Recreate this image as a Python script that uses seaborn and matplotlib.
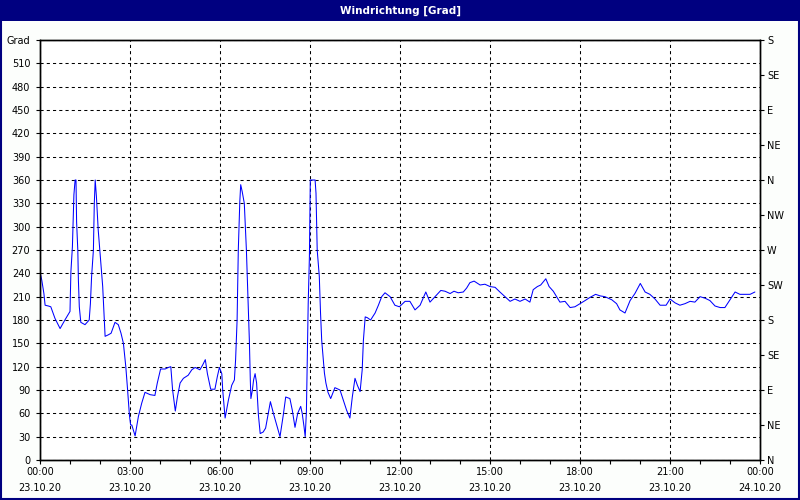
import matplotlib
matplotlib.use("Agg")
import matplotlib.pyplot as plt
import seaborn as sns
import pandas as pd
from matplotlib import font_manager
from matplotlib.patches import Rectangle
from matplotlib.ticker import MultipleLocator

# ---- data (time in hours since 23.10.20 00:00, wind direction in degrees) ----
hours = [0.0, 0.06, 0.13, 0.17, 0.28, 0.36, 0.5, 0.67, 0.83, 1.0, 1.03, 1.08, 1.13, 1.17, 1.2,
         1.22, 1.26, 1.28, 1.31, 1.36, 1.5, 1.64, 1.68, 1.72, 1.78, 1.81, 1.84, 1.88, 1.94, 2.02,
         2.09, 2.13, 2.17, 2.28, 2.37, 2.5, 2.61, 2.7, 2.78, 2.86, 2.92, 2.98, 3.02, 3.06, 3.17,
         3.28, 3.39, 3.5, 3.67, 3.83, 3.91, 4.02, 4.17, 4.28, 4.36, 4.42, 4.51, 4.58, 4.67, 4.78,
         4.94, 5.06, 5.17, 5.33, 5.42, 5.51, 5.58, 5.69, 5.83, 5.91, 5.98, 6.06, 6.09, 6.17, 6.28,
         6.39, 6.48, 6.52, 6.57, 6.61, 6.66, 6.69, 6.74, 6.81, 6.88, 6.94, 6.98, 7.01, 7.03, 7.08,
         7.12, 7.17, 7.22, 7.28, 7.34, 7.44, 7.52, 7.59, 7.68, 7.78, 7.89, 8.0, 8.11, 8.19, 8.33,
         8.41, 8.5, 8.59, 8.69, 8.74, 8.8, 8.84, 8.88, 8.91, 8.94, 8.98, 9.01, 9.17, 9.2, 9.24,
         9.31, 9.35, 9.39, 9.44, 9.48, 9.53, 9.6, 9.69, 9.83, 10.0, 10.11, 10.22, 10.33, 10.41, 10.5,
         10.58, 10.67, 10.74, 10.78, 10.84, 10.91, 11.02, 11.17, 11.28, 11.39, 11.5, 11.67, 11.83, 11.98, 12.17,
         12.33, 12.5, 12.67, 12.76, 12.86, 13.0, 13.17, 13.36, 13.5, 13.67, 13.8, 13.94, 14.11, 14.22, 14.33,
         14.47, 14.67, 14.83, 15.0, 15.17, 15.33, 15.56, 15.67, 15.83, 16.0, 16.17, 16.33, 16.44, 16.58, 16.69,
         16.86, 16.97, 17.11, 17.22, 17.33, 17.5, 17.67, 17.83, 18.0, 18.17, 18.33, 18.52, 18.67, 18.83, 19.06,
         19.22, 19.33, 19.5, 19.67, 19.83, 20.01, 20.17, 20.33, 20.5, 20.67, 20.87, 21.0, 21.17, 21.33, 21.5,
         21.67, 21.83, 22.0, 22.17, 22.33, 22.5, 22.67, 22.83, 23.0, 23.17, 23.33, 23.5, 23.67, 23.83]
degrees = [242, 231, 214, 199, 198, 197, 182, 169, 180, 191, 242, 274, 341, 360, 360,
           306, 270, 231, 197, 177, 174, 180, 201, 236, 270, 330, 360, 339, 296, 257,
           223, 191, 159, 161, 163, 177, 174, 163, 150, 120, 90, 58, 45, 45, 31,
           56, 73, 87, 84, 83, 99, 117, 117, 119, 120, 90, 63, 81, 99, 105,
           109, 116, 119, 116, 122, 129, 111, 91, 91, 107, 119, 111, 90, 54, 77,
           96, 103, 129, 180, 270, 332, 354, 345, 330, 270, 201, 152, 103, 79, 90,
           103, 111, 99, 58, 34, 36, 41, 56, 75, 60, 45, 30, 58, 81, 79,
           64, 42, 60, 69, 60, 43, 30, 62, 129, 201, 261, 360, 360, 343, 270,
           236, 190, 154, 130, 112, 99, 87, 79, 93, 90, 77, 64, 54, 81, 105,
           96, 88, 116, 154, 184, 183, 180, 189, 199, 210, 215, 210, 199, 197, 204,
           204, 193, 199, 207, 216, 203, 210, 218, 217, 214, 217, 215, 216, 221, 228,
           230, 225, 226, 223, 222, 216, 208, 204, 207, 204, 207, 203, 219, 223, 225,
           233, 223, 217, 210, 203, 204, 196, 197, 201, 205, 209, 213, 211, 210, 206,
           201, 193, 189, 205, 214, 227, 216, 213, 207, 199, 199, 207, 202, 199, 201,
           204, 203, 210, 208, 205, 198, 196, 196, 206, 216, 213, 213, 213, 216]

y_ticks = list(range(0, 541, 30))
y_labels = [str(v) for v in range(0, 511, 30)] + ["Grad"]
compass_ticks = list(range(0, 541, 45))
compass_labels = ["N", "NE", "E", "SE", "S", "SW", "W", "NW", "N", "NE", "E", "SE", "S"]
x_ticks = list(range(0, 25, 3))
x_labels = ["00:00\n23.10.20", "03:00\n23.10.20", "06:00\n23.10.20", "09:00\n23.10.20",
            "12:00\n23.10.20", "15:00\n23.10.20", "18:00\n23.10.20", "21:00\n23.10.20",
            "00:00\n24.10.20"]
title = "Windrichtung [Grad]"

# ---- style ----
sns.set_style("white")
available = {f.name for f in font_manager.fontManager.ttflist}
fam = "Liberation Sans Narrow" if "Liberation Sans Narrow" in available else "DejaVu Sans"
plt.rcParams["font.family"] = [fam, "DejaVu Sans"]

NAVY = "#000080"
fig = plt.figure(figsize=(8, 5), dpi=100, facecolor="#FCFEFC")
ax = fig.add_axes([0.05, 0.08, 0.90, 0.84])
ax.set_facecolor("white")

df = pd.DataFrame({"h": hours, "deg": degrees})
sns.lineplot(data=df, x="h", y="deg", ax=ax, color="#0000FF", linewidth=0.75,
             estimator=None, sort=False, legend=False)

ax.set_xlim(0, 24)
ax.set_ylim(0, 540)
ax.set_xlabel("")
ax.set_ylabel("")
ax.set_yticks(y_ticks, y_labels)
ax.set_xticks(x_ticks, x_labels, linespacing=1.75)
ax.xaxis.set_minor_locator(MultipleLocator(1))
ax.grid(True, which="major", color="black", linestyle=(0, (3, 3)), linewidth=0.75)
ax.tick_params(axis="y", which="major", direction="out", length=3, width=0.8, pad=4,
               labelsize=7, colors="black", left=True)
ax.tick_params(axis="x", which="both", direction="out", length=3, width=0.8, pad=2,
               labelsize=7, colors="black", bottom=True)
for s in ax.spines.values():
    s.set_color("black")
    s.set_linewidth(1.0)

ax2 = ax.twinx()
ax2.set_ylim(0, 540)
ax2.set_yticks(compass_ticks, compass_labels)
ax2.grid(False)
ax2.tick_params(axis="y", direction="out", length=3, width=0.8, pad=2, labelsize=7,
                colors="black", right=True)
for s in ax2.spines.values():
    s.set_color("black")
    s.set_linewidth(1.0)

# window-style title bar and frame
fig.patches.append(Rectangle((0, 1 - 21 / 500), 1, 21 / 500, transform=fig.transFigure,
                             facecolor=NAVY, edgecolor="none", zorder=0))
fig.patches.append(Rectangle((0.001, 0.002), 0.998, 0.996, transform=fig.transFigure,
                             fill=False, edgecolor=NAVY, linewidth=1.5, zorder=0))
fig.text(0.5, 1 - 10.5 / 500, title, color="white", fontweight="bold", fontsize=7.5,
         ha="center", va="center")

fig.savefig("out.png", dpi=100, facecolor=fig.get_facecolor())
